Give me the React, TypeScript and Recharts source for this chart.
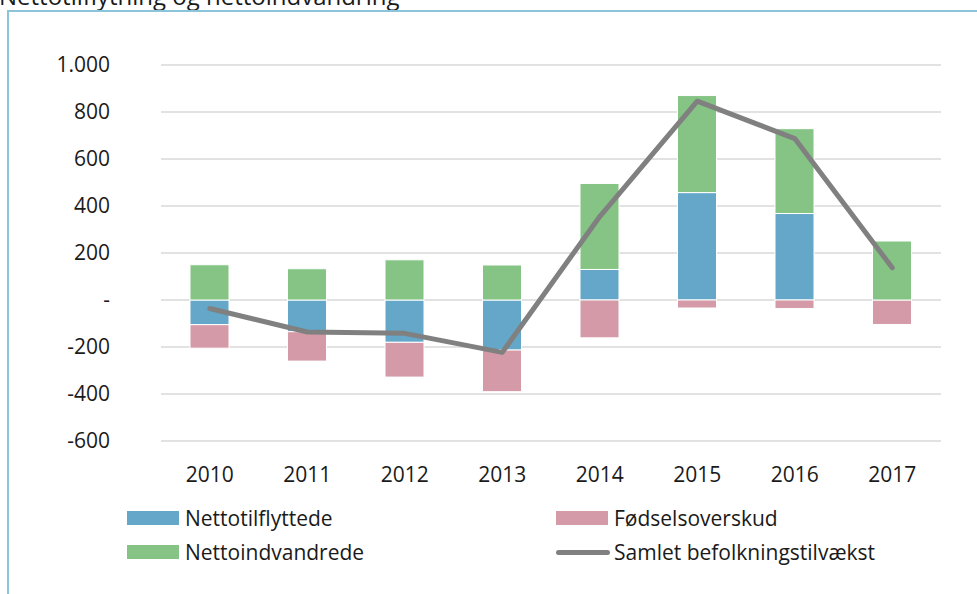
import {
  Bar,
  CartesianGrid,
  ComposedChart,
  Legend,
  Line,
  XAxis,
  YAxis,
} from 'recharts'

const years = ['2010', '2011', '2012', '2013', '2014', '2015', '2016', '2017']
const nettotilflyttede = [-105, -135, -180, -213, 130, 457, 368, 0]
const foedselsoverskud = [-100, -125, -148, -177, -161, -34, -36, -104]
const nettoindvandrede = [150, 133, 171, 149, 366, 413, 361, 251]
const samletTilvaekst = [-36, -136, -142, -223, 355, 846, 687, 137]
const yTicks = [-600, -400, -200, 0, 200, 400, 600, 800, 1000]

const FONT = '"Open Sans", "Noto Sans", sans-serif'

const data = years.map((year, i) => ({
  year,
  nettotilflyttede: nettotilflyttede[i],
  foedselsoverskud: foedselsoverskud[i],
  nettoindvandrede: nettoindvandrede[i],
  samlet: samletTilvaekst[i],
}))

const formatTick = (v: number) =>
  v === 0 ? '-' : String(v).replace(/\B(?=(\d{3})+(?!\d))/g, '.')

type LegendItem = { name: string; color: string; kind: 'box' | 'line'; x: number; y: number }

const legendItems: LegendItem[] = [
  { name: 'Nettotilflyttede', color: '#64a7c8', kind: 'box', x: 127, y: 14 },
  { name: 'Fødselsoverskud', color: '#d59aa7', kind: 'box', x: 556, y: 14 },
  { name: 'Nettoindvandrede', color: '#85c484', kind: 'box', x: 127, y: 48 },
  { name: 'Samlet befolkningstilvækst', color: '#808080', kind: 'line', x: 556, y: 48 },
]

function ChartLegend() {
  return (
    <div style={{ position: 'relative', width: 977, height: 90, fontFamily: FONT }}>
      {legendItems.map((item) => (
        <div
          key={item.name}
          style={{
            position: 'absolute',
            left: item.x,
            top: item.y - 15,
            height: 30,
            display: 'flex',
            alignItems: 'center',
            fontSize: 21,
            color: '#1a1a1a',
            whiteSpace: 'nowrap',
          }}
        >
          {item.kind === 'box' ? (
            <span style={{ width: 52, height: 14, background: item.color, marginRight: 6 }} />
          ) : (
            <span
              style={{ width: 54, height: 5, borderRadius: 3, background: item.color, marginRight: 4 }}
            />
          )}
          {item.name}
        </div>
      ))}
    </div>
  )
}

export default function App() {
  return (
    <div style={{ position: 'fixed', left: 0, top: 0, width: 977, height: 594, overflow: 'hidden', background: '#fff' }}>
      <div
        style={{
          position: 'absolute',
          left: -1,
          top: -21,
          fontFamily: FONT,
          fontSize: 24,
          color: '#1a1a1a',
          whiteSpace: 'nowrap',
        }}
      >
        Nettotilflytning og nettoindvandring
      </div>
      <div
        style={{
          position: 'absolute',
          left: 7,
          top: 10,
          width: 1100,
          height: 800,
          borderLeft: '2px solid #8cc4dc',
          borderTop: '2px solid #8cc4dc',
        }}
      />
      <div style={{ position: 'absolute', left: 0, top: 0 }}>
        <ComposedChart
          width={977}
          height={594}
          data={data}
          stackOffset="sign"
          margin={{ top: 65, right: 36, bottom: 0, left: 0 }}
          style={{ fontFamily: FONT }}
        >
          <CartesianGrid vertical={false} stroke="#d9d9d9" strokeWidth={1.5} />
          <XAxis
            dataKey="year"
            axisLine={false}
            tickLine={false}
            tickSize={0}
            tickMargin={26}
            height={63}
            tick={{ fill: '#1a1a1a', fontSize: 21 }}
          />
          <YAxis
            domain={[-600, 1000]}
            ticks={yTicks}
            interval={0}
            width={161}
            axisLine={false}
            tickLine={false}
            tickSize={0}
            tickMargin={51}
            tickFormatter={formatTick}
            tick={{ fill: '#1a1a1a', fontSize: 21 }}
          />
          <Legend
            verticalAlign="bottom"
            content={() => <ChartLegend />}
            wrapperStyle={{ left: 0, bottom: 0, width: 977, height: 90 }}
          />
          <Bar
            dataKey="nettotilflyttede"
            name="Nettotilflyttede"
            stackId="a"
            fill="#64a7c8"
            stroke="#fff"
            strokeWidth={1}
            barSize={39}
            isAnimationActive={false}
          />
          <Bar
            dataKey="foedselsoverskud"
            name="Fødselsoverskud"
            stackId="a"
            fill="#d59aa7"
            stroke="#fff"
            strokeWidth={1}
            barSize={39}
            isAnimationActive={false}
          />
          <Bar
            dataKey="nettoindvandrede"
            name="Nettoindvandrede"
            stackId="a"
            fill="#85c484"
            stroke="#fff"
            strokeWidth={1}
            barSize={39}
            isAnimationActive={false}
          />
          <Line
            dataKey="samlet"
            name="Samlet befolkningstilvækst"
            type="linear"
            stroke="#808080"
            strokeWidth={5}
            strokeLinecap="round"
            strokeLinejoin="round"
            dot={false}
            activeDot={false}
            isAnimationActive={false}
          />
        </ComposedChart>
      </div>
    </div>
  )
}
